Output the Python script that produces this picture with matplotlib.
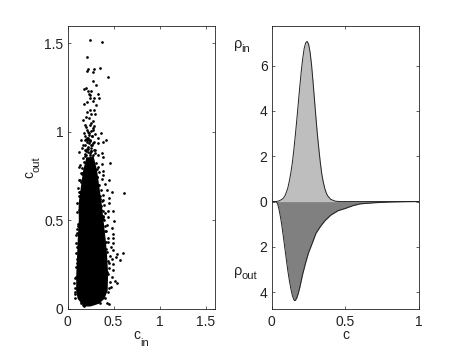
import numpy as np
import matplotlib
matplotlib.use("Agg")
import matplotlib.pyplot as plt

plt.rcParams["font.family"] = ["Liberation Sans", "DejaVu Sans"]

# dense core of the scatter, read as left/right edges per c_out level
core_out = [0.017, 0.032, 0.060, 0.107, 0.201, 0.296, 0.390, 0.504, 0.598, 0.693, 0.787, 0.86]
core_left = [0.171, 0.150, 0.105, 0.088, 0.090, 0.098, 0.105, 0.117, 0.115, 0.140, 0.165, 0.20]
core_right = [0.244, 0.334, 0.395, 0.430, 0.435, 0.425, 0.410, 0.385, 0.365, 0.340, 0.315, 0.28]

# individual points outside the core
points_in = [
    0.244, 0.377, 0.215, 0.226, 0.208, 0.283, 0.280, 0.348, 0.435, 0.272, 0.309,
    0.182, 0.218, 0.251, 0.334, 0.244, 0.287, 0.341, 0.200, 0.244, 0.229, 0.179,
    0.208, 0.280, 0.309, 0.215, 0.244, 0.287, 0.301, 0.251, 0.171, 0.200, 0.233,
    0.280, 0.189, 0.244, 0.287, 0.208, 0.280, 0.363, 0.182, 0.236, 0.298, 0.143,
    0.189, 0.226, 0.262, 0.334, 0.413, 0.381, 0.334, 0.171, 0.244, 0.208, 0.280,
    0.153, 0.251, 0.298, 0.124, 0.189, 0.370, 0.327, 0.381, 0.464, 0.171, 0.244,
    0.280, 0.135, 0.208, 0.309, 0.377, 0.153, 0.244, 0.280, 0.200, 0.215, 0.260,
    0.225, 0.205, 0.240, 0.270, 0.195, 0.215, 0.255, 0.175, 0.290, 0.315,
    0.608, 0.507, 0.449, 0.388, 0.478, 0.424, 0.453, 0.406, 0.370, 0.345, 0.388,
    0.489, 0.442, 0.406, 0.442, 0.388, 0.453, 0.399, 0.431, 0.478, 0.489, 0.496,
    0.435, 0.417, 0.388, 0.388, 0.099, 0.117, 0.135, 0.125, 0.105, 0.112, 0.145,
    0.605, 0.532, 0.569, 0.478, 0.525, 0.496, 0.514, 0.532, 0.460, 0.489, 0.442,
    0.467, 0.496, 0.453, 0.489, 0.478, 0.442, 0.406, 0.431, 0.449, 0.085, 0.070,
    0.081, 0.092, 0.095, 0.088, 0.078, 0.100, 0.460, 0.452, 0.470, 0.440, 0.420,
    0.405, 0.395, 0.385, 0.375, 0.360, 0.355, 0.335, 0.325, 0.120, 0.130, 0.140,
    0.108, 0.098, 0.150, 0.165, 0.175,
    # denser clumps above the core and rough edges along it
    0.185, 0.195, 0.210, 0.225, 0.235, 0.250, 0.265, 0.285, 0.300, 0.190, 0.205,
    0.220, 0.235, 0.255, 0.270, 0.290, 0.215, 0.230, 0.245, 0.260, 0.200, 0.225,
    0.250, 0.275, 0.160, 0.170, 0.330, 0.345, 0.325, 0.350, 0.360, 0.375, 0.385,
    0.395, 0.410, 0.415, 0.425, 0.440, 0.445, 0.430, 0.095, 0.100, 0.110, 0.105,
    0.090, 0.085, 0.080, 0.120, 0.128, 0.142, 0.155, 0.148, 0.350, 0.365, 0.380,
]
points_out = [
    1.520, 1.509, 1.424, 1.356, 1.343, 1.356, 1.336, 1.362, 1.309, 1.287, 1.266,
    1.245, 1.234, 1.234, 1.217, 1.206, 1.194, 1.189, 1.249, 1.192, 1.217, 1.158,
    1.168, 1.172, 1.151, 1.111, 1.126, 1.126, 1.102, 1.104, 1.070, 1.085, 1.076,
    1.060, 1.042, 1.042, 1.032, 1.013, 1.009, 0.996, 0.994, 0.994, 0.991, 0.955,
    0.976, 0.966, 0.976, 0.966, 0.957, 0.943, 0.938, 0.928, 0.947, 0.953, 0.938,
    0.910, 0.910, 0.900, 0.885, 0.900, 0.881, 0.872, 0.859, 0.825, 0.853, 0.872,
    0.872, 0.815, 0.834, 0.825, 0.821, 0.796, 0.850, 0.815, 0.960, 0.945, 0.925,
    0.905, 0.890, 0.880, 0.860, 0.865, 0.845, 0.840, 0.830, 0.800, 0.790,
    0.655, 0.498, 0.727, 0.759, 0.659, 0.674, 0.627, 0.708, 0.734, 0.772, 0.781,
    0.555, 0.551, 0.542, 0.517, 0.523, 0.598, 0.589, 0.476, 0.457, 0.425, 0.400,
    0.400, 0.438, 0.646, 0.617, 0.598, 0.683, 0.730, 0.640, 0.550, 0.470, 0.770,
    0.315, 0.311, 0.277, 0.281, 0.296, 0.220, 0.160, 0.149, 0.154, 0.371, 0.381,
    0.352, 0.333, 0.262, 0.254, 0.183, 0.098, 0.060, 0.035, 0.026, 0.060, 0.149,
    0.098, 0.315, 0.370, 0.240, 0.175, 0.450, 0.300, 0.230, 0.125, 0.200, 0.340,
    0.440, 0.360, 0.520, 0.480, 0.580, 0.620, 0.700, 0.745, 0.730, 0.800, 0.660,
    0.430, 0.260, 0.035, 0.022, 0.015,
    0.925, 0.955, 0.905, 0.885, 0.935, 0.895, 0.925, 0.945, 0.880, 0.875, 0.870,
    0.915, 0.955, 0.895, 0.975, 0.900, 0.965, 0.985, 0.955, 1.005, 1.030, 1.000,
    1.050, 1.020, 0.760, 0.720, 0.800, 0.700, 0.745, 0.640, 0.670, 0.610, 0.555,
    0.500, 0.470, 0.380, 0.320, 0.270, 0.120, 0.210, 0.420, 0.350, 0.480, 0.280,
    0.180, 0.120, 0.085, 0.560, 0.660, 0.720, 0.770, 0.045, 0.035, 0.560, 0.510,
]

# density curves on the right
c_in = [0.00, 0.03, 0.05, 0.07, 0.08, 0.09, 0.10, 0.11, 0.12, 0.13, 0.14, 0.15, 0.16,
        0.17, 0.18, 0.19, 0.20, 0.21, 0.22, 0.23, 0.24, 0.25, 0.26, 0.27, 0.28, 0.29,
        0.30, 0.31, 0.32, 0.33, 0.34, 0.35, 0.36, 0.37, 0.38, 0.40, 0.43, 0.46, 1.00]
rho_in = [0.00, 0.00, 0.03, 0.10, 0.16, 0.26, 0.42, 0.62, 0.92, 1.28, 1.72, 2.28, 2.92,
          3.60, 4.32, 5.05, 5.72, 6.30, 6.75, 7.00, 7.07, 6.95, 6.60, 6.05, 5.30, 4.50,
          3.70, 2.95, 2.30, 1.70, 1.20, 0.85, 0.58, 0.38, 0.25, 0.10, 0.02, 0.00, 0.00]
c_out = [0.00, 0.03, 0.04, 0.05, 0.06, 0.07, 0.08, 0.09, 0.10, 0.11, 0.12, 0.13, 0.14,
         0.15, 0.155, 0.16, 0.17, 0.18, 0.19, 0.20, 0.21, 0.23, 0.25, 0.28, 0.30, 0.33,
         0.36, 0.40, 0.45, 0.50, 0.55, 0.60, 0.70, 0.80, 0.90, 1.00]
rho_out = [0.00, 0.00, 0.10, 0.36, 0.70, 1.12, 1.60, 2.10, 2.60, 3.08, 3.50, 3.85, 4.15,
           4.33, 4.37, 4.36, 4.25, 4.05, 3.80, 3.50, 3.20, 2.70, 2.25, 1.75, 1.40, 1.10,
           0.85, 0.60, 0.40, 0.30, 0.18, 0.10, 0.05, 0.02, 0.005, 0.00]

left_ticks = [0, 0.5, 1, 1.5]
left_labels = ["0", "0.5", "1", "1.5"]
right_yticks = [-4, -2, 0, 2, 4, 6]
right_ylabels = ["4", "2", "0", "2", "4", "6"]
right_xticks = [0, 0.5, 1]
right_xlabels = ["0", "0.5", "1"]

W, H = 463, 348
fig = plt.figure(figsize=(W / 100, H / 100), dpi=100)
ax1 = fig.add_axes([67.5 / W, 1 - 309 / H, 147.5 / W, 283.3 / H])
ax2 = fig.add_axes([271.7 / W, 1 - 309 / H, 147.5 / W, 283.3 / H])


def put_label(x_px, y_px, text, size, rotation=0):
    # label parts sit at their own pixel spots, the subscripts drop lower than mathtext's
    fig.text(x_px / W, 1 - y_px / H, text, fontsize=size, rotation=rotation,
             ha="center", va="center", color="#222222")


ax1.fill_betweenx(core_out, core_left, core_right, color="k", lw=0)
ax1.scatter(points_in, points_out, s=3.8, color="k", linewidths=0)
ax1.set_xlim(0, 1.6)
ax1.set_ylim(0, 1.6)
ax1.set_xticks(left_ticks, left_labels)
ax1.set_yticks(left_ticks, left_labels)

ax2.fill_between(c_in, 0, rho_in, color="#bebebe", lw=0)
ax2.fill_between(c_out, 0, -np.array(rho_out), color="#808080", lw=0)
ax2.plot(c_in, rho_in, color="#222222", lw=0.7)
ax2.plot(c_out, -np.array(rho_out), color="#222222", lw=0.7)
ax2.set_xlim(0, 1)
ax2.set_ylim(-4.74, 7.76)
ax2.set_xticks(right_xticks, right_xlabels)
ax2.set_yticks(right_yticks, right_ylabels)

put_label(136.7, 335, "c", 10)
put_label(144.5, 343, "in", 8)
put_label(29, 175, "c", 10, rotation=90)
put_label(37, 164.5, "out", 8, rotation=90)
put_label(346, 335, "c", 10)
put_label(238, 44, "\u03c1", 10.5)
put_label(246, 48.5, "in", 8)
put_label(238, 271, "\u03c1", 10.5)
put_label(249, 276, "out", 8)

for ax in (ax1, ax2):
    ax.tick_params(direction="in", top=True, right=True, length=2.5, width=0.5,
                   labelsize=10, pad=3, colors="#222222")
    ax.tick_params(axis="x", pad=4.2)
    for side in ax.spines.values():
        side.set_linewidth(0.6)
        side.set_color("#222222")

fig.savefig("out.png", dpi=100)
